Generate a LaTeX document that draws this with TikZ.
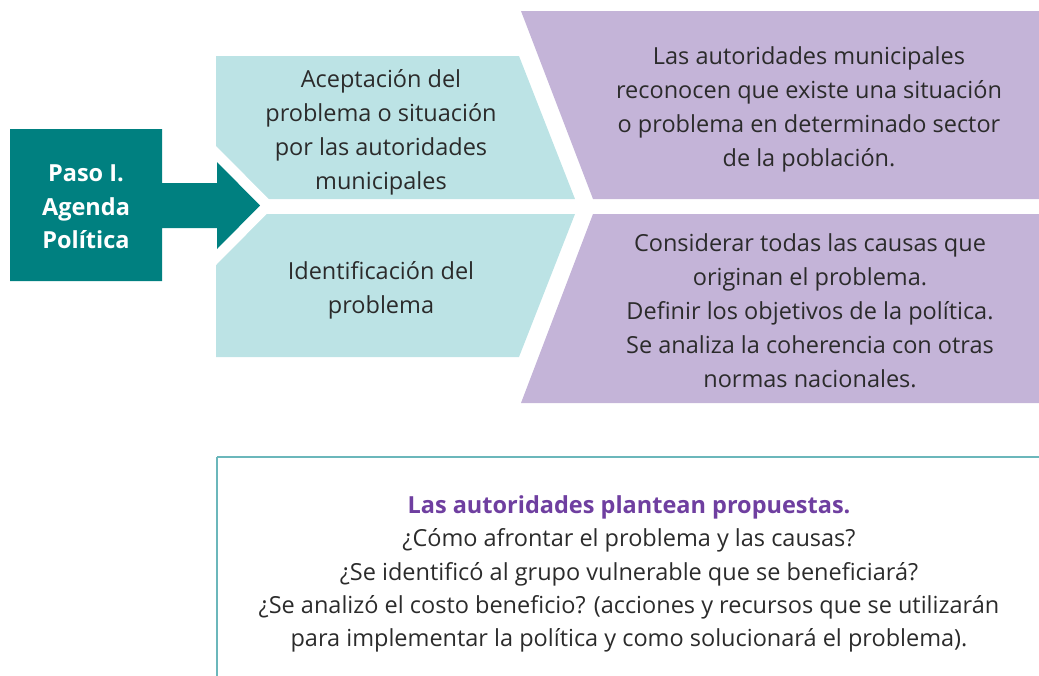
\documentclass[tikz,border=0pt]{standalone}
\usepackage{fontspec}
\setmainfont{Open Sans}
\definecolor{tealA}{HTML}{008080}
\definecolor{cyanA}{HTML}{BCE3E5}
\definecolor{purpA}{HTML}{C4B4D8}
\definecolor{boxline}{HTML}{6BB7BB}
\definecolor{titleP}{HTML}{6F3FA0}
\definecolor{txtC}{HTML}{2B2B2B}
\begin{document}
\begin{tikzpicture}[x=1pt,y=-1pt,
  body/.style={text=txtC, align=center, inner sep=0pt, font=\fontsize{23.5}{34}\selectfont},
  small/.style={text=txtC, align=center, inner sep=0pt, font=\fontsize{23.5}{33.3}\selectfont},
  headtxt/.style={text=white, align=center, inner sep=0pt, font=\fontsize{23.5}{33.5}\selectfont\bfseries}]
\useasboundingbox (0,0) rectangle (1039,675);
\clip (0,0) rectangle (1039,675);
% cyan chevrons
\fill[cyanA] (216,56) -- (519,56) -- (575,199) -- (216,199) -- cycle;
\fill[cyanA] (216,214) -- (575,214) -- (519,357) -- (216,357) -- cycle;
% purple chevrons
\fill[purpA] (521,11) -- (1039,11) -- (1039,199) -- (593,199) -- cycle;
\fill[purpA] (593,214) -- (1039,214) -- (1039,403) -- (521,403) -- cycle;
% white notch behind arrow head
\fill[white] (216,146) -- (275,205.5) -- (216,265) -- cycle;
% teal arrow
\fill[tealA] (10,129) -- (162,129) -- (162,183) -- (217,183) -- (217,162) -- (260,205.5)
  -- (217,249) -- (217,228) -- (162,228) -- (162,281) -- (10,281) -- cycle;
% bottom box
\draw[boxline, line width=2.3pt] (217,457) -- (1045,457);
\draw[boxline, line width=2.3pt] (217,457) -- (217,680);
% texts
\node[headtxt] (paso) at (86,207) {Paso I.\\Agenda\\Política};
\node[body] (acep) at (381,132) {Aceptación del\\problema o situación\\por las autoridades\\municipales};
\node[body] (ident) at (381,290) {Identificación del\\problema};
\node[body] (recon) at (809,109) {Las autoridades municipales\\reconocen que existe una situación\\o problema en determinado sector\\de la población.};
\node[body] (cons) at (810,311) {Considerar todas las causas que\\originan el problema.\\Definir los objetivos de la política.\\Se analiza la coherencia con otras\\normas nacionales.};
\node[small] (prop) at (629,574) {{\bfseries\color{titleP}Las autoridades plantean propuestas.}\\¿Cómo afrontar el problema y las causas?\\¿Se identificó al grupo vulnerable que se beneficiará?\\¿Se analizó el costo beneficio? (acciones y recursos que se utilizarán\\para implementar la política y como solucionará el problema).};
\end{tikzpicture}
\end{document}
